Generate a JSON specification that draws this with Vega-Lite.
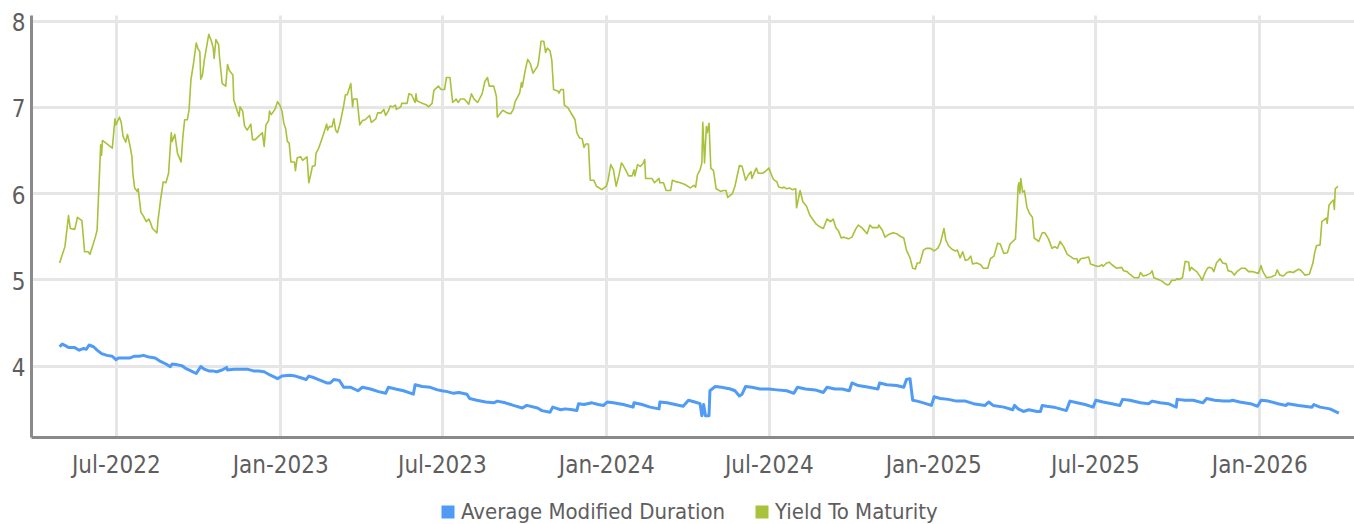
{
"$schema": "https://vega.github.io/schema/vega-lite/v6.json",
"width": 1323,
"height": 422,
"autosize": {"type": "none"},
"padding": {"left": 31, "top": 15, "right": 0, "bottom": 87},
"background": "white",
"config": {"view": {"stroke": null}, "font": "DejaVu Sans Condensed, DejaVu Sans, Roboto"},
"encoding": {
"x": {"field": "d", "type": "temporal",
 "scale": {"type": "utc", "domain": [{"year": 2022, "month": 3, "date": 28, "utc": true}, {"year": 2026, "month": 4, "date": 17, "utc": true}]},
 "axis": {"title": null, "format": "%b-%Y",
  "values": [{"year": 2022, "month": 7, "date": 1, "utc": true}, {"year": 2023, "month": 1, "date": 1, "utc": true}, {"year": 2023, "month": 7, "date": 1, "utc": true}, {"year": 2024, "month": 1, "date": 1, "utc": true}, {"year": 2024, "month": 7, "date": 1, "utc": true}, {"year": 2025, "month": 1, "date": 1, "utc": true}, {"year": 2025, "month": 7, "date": 1, "utc": true}, {"year": 2026, "month": 1, "date": 1, "utc": true}],
  "grid": true, "gridColor": "#e6e6e6", "gridWidth": 3, "domainColor": "#8a8a8a", "domainWidth": 3,
  "ticks": false, "tickSize": 0, "labelFontSize": 24, "labelColor": "#5e5e5e", "labelPadding": 16,
  "labelFlush": false, "labelOverlap": false}},
"y": {"field": "v", "type": "quantitative",
 "scale": {"domain": [3.174, 8.064], "nice": false, "zero": false},
 "axis": {"title": null, "values": [4, 5, 6, 7, 8], "grid": true, "gridColor": "#e6e6e6", "gridWidth": 3,
  "domainColor": "#8a8a8a", "domainWidth": 3, "ticks": false, "tickSize": 0, "labelFontSize": 24,
  "labelColor": "#5e5e5e", "labelPadding": 6, "labelOffset": 3}}
},
"layer": [
{
"data": {"values": [
{"d":"2022-04-29","v":4.22},{"d":"2022-05-02","v":4.25},{"d":"2022-05-06","v":4.23},{"d":"2022-05-09","v":4.21},{"d":"2022-05-16","v":4.21},{"d":"2022-05-21","v":4.18},{"d":"2022-05-26","v":4.20},{"d":"2022-05-29","v":4.19},{"d":"2022-06-01","v":4.24},{"d":"2022-06-06","v":4.22},{"d":"2022-06-10","v":4.18},{"d":"2022-06-15","v":4.14},{"d":"2022-06-21","v":4.12},{"d":"2022-06-27","v":4.11},{"d":"2022-07-01","v":4.07},{"d":"2022-07-04","v":4.09},{"d":"2022-07-10","v":4.09},{"d":"2022-07-17","v":4.09},{"d":"2022-07-22","v":4.11},{"d":"2022-07-27","v":4.11},{"d":"2022-08-01","v":4.12},{"d":"2022-08-07","v":4.10},{"d":"2022-08-14","v":4.09},{"d":"2022-08-20","v":4.05},{"d":"2022-08-26","v":4.02},{"d":"2022-08-31","v":3.99},{"d":"2022-09-02","v":4.02},{"d":"2022-09-08","v":4.01},{"d":"2022-09-13","v":4.00},{"d":"2022-09-17","v":3.97},{"d":"2022-09-23","v":3.94},{"d":"2022-09-29","v":3.91},{"d":"2022-10-04","v":3.99},{"d":"2022-10-08","v":3.96},{"d":"2022-10-13","v":3.94},{"d":"2022-10-17","v":3.94},{"d":"2022-10-22","v":3.93},{"d":"2022-10-28","v":3.95},{"d":"2022-11-02","v":3.98},{"d":"2022-11-03","v":3.95},{"d":"2022-11-10","v":3.96},{"d":"2022-11-18","v":3.96},{"d":"2022-11-25","v":3.96},{"d":"2022-12-02","v":3.94},{"d":"2022-12-08","v":3.94},{"d":"2022-12-14","v":3.93},{"d":"2022-12-21","v":3.89},{"d":"2022-12-29","v":3.85},{"d":"2023-01-03","v":3.88},{"d":"2023-01-12","v":3.89},{"d":"2023-01-18","v":3.88},{"d":"2023-01-24","v":3.86},{"d":"2023-01-30","v":3.84},{"d":"2023-02-02","v":3.88},{"d":"2023-02-08","v":3.86},{"d":"2023-02-15","v":3.83},{"d":"2023-02-22","v":3.80},{"d":"2023-02-26","v":3.80},{"d":"2023-03-02","v":3.84},{"d":"2023-03-08","v":3.83},{"d":"2023-03-10","v":3.80},{"d":"2023-03-13","v":3.75},{"d":"2023-03-21","v":3.75},{"d":"2023-03-29","v":3.71},{"d":"2023-04-03","v":3.75},{"d":"2023-04-12","v":3.73},{"d":"2023-04-21","v":3.70},{"d":"2023-04-29","v":3.68},{"d":"2023-05-02","v":3.75},{"d":"2023-05-10","v":3.73},{"d":"2023-05-19","v":3.71},{"d":"2023-05-30","v":3.67},{"d":"2023-06-01","v":3.78},{"d":"2023-06-09","v":3.76},{"d":"2023-06-18","v":3.75},{"d":"2023-06-26","v":3.72},{"d":"2023-07-01","v":3.71},{"d":"2023-07-07","v":3.70},{"d":"2023-07-14","v":3.68},{"d":"2023-07-20","v":3.69},{"d":"2023-07-29","v":3.67},{"d":"2023-08-01","v":3.62},{"d":"2023-08-09","v":3.60},{"d":"2023-08-19","v":3.58},{"d":"2023-08-28","v":3.57},{"d":"2023-09-01","v":3.59},{"d":"2023-09-10","v":3.57},{"d":"2023-09-19","v":3.54},{"d":"2023-09-29","v":3.51},{"d":"2023-10-04","v":3.54},{"d":"2023-10-16","v":3.51},{"d":"2023-10-21","v":3.48},{"d":"2023-10-30","v":3.46},{"d":"2023-11-02","v":3.52},{"d":"2023-11-11","v":3.49},{"d":"2023-11-16","v":3.50},{"d":"2023-11-24","v":3.49},{"d":"2023-11-29","v":3.48},{"d":"2023-12-01","v":3.56},{"d":"2023-12-07","v":3.55},{"d":"2023-12-16","v":3.57},{"d":"2023-12-23","v":3.55},{"d":"2023-12-29","v":3.54},{"d":"2024-01-02","v":3.58},{"d":"2024-01-09","v":3.57},{"d":"2024-01-20","v":3.55},{"d":"2024-01-31","v":3.52},{"d":"2024-02-01","v":3.57},{"d":"2024-02-10","v":3.55},{"d":"2024-02-19","v":3.52},{"d":"2024-02-29","v":3.50},{"d":"2024-03-01","v":3.58},{"d":"2024-03-09","v":3.57},{"d":"2024-03-18","v":3.55},{"d":"2024-03-27","v":3.53},{"d":"2024-04-02","v":3.60},{"d":"2024-04-09","v":3.58},{"d":"2024-04-15","v":3.56},{"d":"2024-04-17","v":3.42},{"d":"2024-04-19","v":3.55},{"d":"2024-04-21","v":3.42},{"d":"2024-04-25","v":3.42},{"d":"2024-04-26","v":3.71},{"d":"2024-05-02","v":3.76},{"d":"2024-05-09","v":3.75},{"d":"2024-05-19","v":3.73},{"d":"2024-05-24","v":3.71},{"d":"2024-05-29","v":3.65},{"d":"2024-06-01","v":3.67},{"d":"2024-06-05","v":3.76},{"d":"2024-06-12","v":3.75},{"d":"2024-06-21","v":3.73},{"d":"2024-07-01","v":3.73},{"d":"2024-07-10","v":3.72},{"d":"2024-07-21","v":3.71},{"d":"2024-07-29","v":3.68},{"d":"2024-08-02","v":3.75},{"d":"2024-08-11","v":3.73},{"d":"2024-08-22","v":3.72},{"d":"2024-08-31","v":3.69},{"d":"2024-09-04","v":3.75},{"d":"2024-09-13","v":3.73},{"d":"2024-09-21","v":3.73},{"d":"2024-09-29","v":3.71},{"d":"2024-10-02","v":3.80},{"d":"2024-10-09","v":3.77},{"d":"2024-10-21","v":3.75},{"d":"2024-10-31","v":3.73},{"d":"2024-11-02","v":3.80},{"d":"2024-11-10","v":3.78},{"d":"2024-11-21","v":3.77},{"d":"2024-11-29","v":3.75},{"d":"2024-12-02","v":3.84},{"d":"2024-12-06","v":3.85},{"d":"2024-12-09","v":3.60},{"d":"2024-12-14","v":3.59},{"d":"2024-12-21","v":3.57},{"d":"2024-12-30","v":3.54},{"d":"2025-01-02","v":3.64},{"d":"2025-01-09","v":3.62},{"d":"2025-01-18","v":3.61},{"d":"2025-01-27","v":3.59},{"d":"2025-02-06","v":3.59},{"d":"2025-02-15","v":3.56},{"d":"2025-02-28","v":3.54},{"d":"2025-03-04","v":3.58},{"d":"2025-03-09","v":3.54},{"d":"2025-03-21","v":3.52},{"d":"2025-03-31","v":3.49},{"d":"2025-04-02","v":3.54},{"d":"2025-04-06","v":3.50},{"d":"2025-04-12","v":3.47},{"d":"2025-04-18","v":3.49},{"d":"2025-04-27","v":3.47},{"d":"2025-05-01","v":3.47},{"d":"2025-05-03","v":3.54},{"d":"2025-05-08","v":3.53},{"d":"2025-05-16","v":3.52},{"d":"2025-05-23","v":3.50},{"d":"2025-05-30","v":3.48},{"d":"2025-06-03","v":3.59},{"d":"2025-06-11","v":3.57},{"d":"2025-06-20","v":3.55},{"d":"2025-06-29","v":3.52},{"d":"2025-07-02","v":3.60},{"d":"2025-07-10","v":3.58},{"d":"2025-07-20","v":3.56},{"d":"2025-07-29","v":3.54},{"d":"2025-08-01","v":3.61},{"d":"2025-08-09","v":3.60},{"d":"2025-08-21","v":3.57},{"d":"2025-08-30","v":3.56},{"d":"2025-09-03","v":3.59},{"d":"2025-09-12","v":3.57},{"d":"2025-09-21","v":3.56},{"d":"2025-09-30","v":3.52},{"d":"2025-10-01","v":3.61},{"d":"2025-10-10","v":3.60},{"d":"2025-10-19","v":3.60},{"d":"2025-10-30","v":3.57},{"d":"2025-11-03","v":3.62},{"d":"2025-11-12","v":3.60},{"d":"2025-11-22","v":3.59},{"d":"2025-11-29","v":3.59},{"d":"2025-12-02","v":3.60},{"d":"2025-12-10","v":3.58},{"d":"2025-12-22","v":3.56},{"d":"2025-12-30","v":3.53},{"d":"2026-01-03","v":3.60},{"d":"2026-01-11","v":3.59},{"d":"2026-01-22","v":3.56},{"d":"2026-01-31","v":3.54},{"d":"2026-02-02","v":3.56},{"d":"2026-02-14","v":3.54},{"d":"2026-03-01","v":3.52},{"d":"2026-03-03","v":3.55},{"d":"2026-03-10","v":3.52},{"d":"2026-03-21","v":3.50},{"d":"2026-03-31","v":3.45}
]},
"mark": {"type": "line", "strokeWidth": 3, "strokeJoin": "round"},
"encoding": {"color": {"datum": "Average Modified Duration", "type": "nominal",
 "scale": {"domain": ["Average Modified Duration", "Yield To Maturity"], "range": ["#4f9bf5", "#a8c23b"]},
 "legend": {"orient": "none", "legendX": 406, "legendY": 486, "direction": "horizontal", "title": null,
  "symbolType": "square", "symbolSize": 169, "symbolStrokeWidth": 0, "labelFontSize": 22, "labelColor": "#5e5e5e",
  "labelOffset": 2, "labelLimit": 600, "columnPadding": 25, "padding": 0,
  "encode": {"symbols": {"update": {"fill": {"scale": "color", "field": "value"}, "stroke": {"value": "transparent"}}}}}}}
},
{
"data": {"values": [
{"d":"2022-04-29","v":5.19},{"d":"2022-05-05","v":5.38},{"d":"2022-05-09","v":5.74},{"d":"2022-05-11","v":5.59},{"d":"2022-05-16","v":5.58},{"d":"2022-05-19","v":5.72},{"d":"2022-05-24","v":5.68},{"d":"2022-05-27","v":5.32},{"d":"2022-05-31","v":5.32},{"d":"2022-06-02","v":5.29},{"d":"2022-06-08","v":5.49},{"d":"2022-06-10","v":5.57},{"d":"2022-06-14","v":6.56},{"d":"2022-06-15","v":6.44},{"d":"2022-06-16","v":6.61},{"d":"2022-06-21","v":6.57},{"d":"2022-06-27","v":6.52},{"d":"2022-06-30","v":6.86},{"d":"2022-07-01","v":6.79},{"d":"2022-07-05","v":6.88},{"d":"2022-07-07","v":6.82},{"d":"2022-07-09","v":6.66},{"d":"2022-07-12","v":6.59},{"d":"2022-07-14","v":6.68},{"d":"2022-07-17","v":6.54},{"d":"2022-07-19","v":6.42},{"d":"2022-07-20","v":6.23},{"d":"2022-07-22","v":6.06},{"d":"2022-07-25","v":6.02},{"d":"2022-07-26","v":6.05},{"d":"2022-07-29","v":5.78},{"d":"2022-08-01","v":5.73},{"d":"2022-08-04","v":5.67},{"d":"2022-08-07","v":5.70},{"d":"2022-08-09","v":5.65},{"d":"2022-08-11","v":5.59},{"d":"2022-08-16","v":5.54},{"d":"2022-08-17","v":5.67},{"d":"2022-08-20","v":5.92},{"d":"2022-08-23","v":6.13},{"d":"2022-08-26","v":6.12},{"d":"2022-08-29","v":6.23},{"d":"2022-08-30","v":6.39},{"d":"2022-09-01","v":6.70},{"d":"2022-09-02","v":6.60},{"d":"2022-09-05","v":6.68},{"d":"2022-09-08","v":6.46},{"d":"2022-09-12","v":6.36},{"d":"2022-09-14","v":6.65},{"d":"2022-09-16","v":6.85},{"d":"2022-09-19","v":6.85},{"d":"2022-09-21","v":6.97},{"d":"2022-09-23","v":7.31},{"d":"2022-09-26","v":7.51},{"d":"2022-09-29","v":7.74},{"d":"2022-10-01","v":7.67},{"d":"2022-10-03","v":7.64},{"d":"2022-10-04","v":7.32},{"d":"2022-10-06","v":7.37},{"d":"2022-10-08","v":7.54},{"d":"2022-10-13","v":7.84},{"d":"2022-10-16","v":7.76},{"d":"2022-10-18","v":7.68},{"d":"2022-10-19","v":7.56},{"d":"2022-10-21","v":7.78},{"d":"2022-10-24","v":7.72},{"d":"2022-10-25","v":7.58},{"d":"2022-10-28","v":7.27},{"d":"2022-11-01","v":7.24},{"d":"2022-11-03","v":7.49},{"d":"2022-11-05","v":7.42},{"d":"2022-11-09","v":7.37},{"d":"2022-11-10","v":7.08},{"d":"2022-11-14","v":6.95},{"d":"2022-11-16","v":6.89},{"d":"2022-11-17","v":7.00},{"d":"2022-11-20","v":6.95},{"d":"2022-11-22","v":6.78},{"d":"2022-11-25","v":6.73},{"d":"2022-11-29","v":6.80},{"d":"2022-12-01","v":6.62},{"d":"2022-12-04","v":6.62},{"d":"2022-12-08","v":6.66},{"d":"2022-12-12","v":6.70},{"d":"2022-12-14","v":6.54},{"d":"2022-12-16","v":6.79},{"d":"2022-12-19","v":6.84},{"d":"2022-12-20","v":6.95},{"d":"2022-12-22","v":6.91},{"d":"2022-12-26","v":6.97},{"d":"2022-12-29","v":7.06},{"d":"2023-01-01","v":7.01},{"d":"2023-01-03","v":6.95},{"d":"2023-01-05","v":6.81},{"d":"2023-01-07","v":6.75},{"d":"2023-01-09","v":6.60},{"d":"2023-01-11","v":6.58},{"d":"2023-01-13","v":6.36},{"d":"2023-01-17","v":6.36},{"d":"2023-01-18","v":6.26},{"d":"2023-01-20","v":6.41},{"d":"2023-01-24","v":6.42},{"d":"2023-01-26","v":6.38},{"d":"2023-01-31","v":6.42},{"d":"2023-02-02","v":6.12},{"d":"2023-02-04","v":6.21},{"d":"2023-02-06","v":6.31},{"d":"2023-02-09","v":6.32},{"d":"2023-02-10","v":6.46},{"d":"2023-02-13","v":6.52},{"d":"2023-02-17","v":6.64},{"d":"2023-02-22","v":6.80},{"d":"2023-02-23","v":6.73},{"d":"2023-02-25","v":6.77},{"d":"2023-02-28","v":6.77},{"d":"2023-03-02","v":6.86},{"d":"2023-03-04","v":6.73},{"d":"2023-03-06","v":6.70},{"d":"2023-03-09","v":6.81},{"d":"2023-03-13","v":7.01},{"d":"2023-03-15","v":7.14},{"d":"2023-03-17","v":7.14},{"d":"2023-03-21","v":7.27},{"d":"2023-03-23","v":7.00},{"d":"2023-03-24","v":7.09},{"d":"2023-03-28","v":7.09},{"d":"2023-03-31","v":6.79},{"d":"2023-04-03","v":6.84},{"d":"2023-04-06","v":6.85},{"d":"2023-04-11","v":6.90},{"d":"2023-04-13","v":6.82},{"d":"2023-04-18","v":6.86},{"d":"2023-04-20","v":6.93},{"d":"2023-04-24","v":6.93},{"d":"2023-04-27","v":6.97},{"d":"2023-04-29","v":6.90},{"d":"2023-05-02","v":6.95},{"d":"2023-05-04","v":7.01},{"d":"2023-05-07","v":7.00},{"d":"2023-05-10","v":7.02},{"d":"2023-05-11","v":6.97},{"d":"2023-05-16","v":7.00},{"d":"2023-05-17","v":7.04},{"d":"2023-05-23","v":7.04},{"d":"2023-05-25","v":7.15},{"d":"2023-05-28","v":7.14},{"d":"2023-06-01","v":7.05},{"d":"2023-06-02","v":7.15},{"d":"2023-06-03","v":7.07},{"d":"2023-06-09","v":7.04},{"d":"2023-06-14","v":7.02},{"d":"2023-06-16","v":7.00},{"d":"2023-06-20","v":7.04},{"d":"2023-06-22","v":7.19},{"d":"2023-06-27","v":7.24},{"d":"2023-06-30","v":7.20},{"d":"2023-07-04","v":7.20},{"d":"2023-07-06","v":7.34},{"d":"2023-07-10","v":7.34},{"d":"2023-07-13","v":7.05},{"d":"2023-07-17","v":7.09},{"d":"2023-07-19","v":7.05},{"d":"2023-07-22","v":7.09},{"d":"2023-07-26","v":7.09},{"d":"2023-07-31","v":7.03},{"d":"2023-08-03","v":7.15},{"d":"2023-08-06","v":7.09},{"d":"2023-08-10","v":7.05},{"d":"2023-08-15","v":7.15},{"d":"2023-08-18","v":7.29},{"d":"2023-08-21","v":7.34},{"d":"2023-08-23","v":7.24},{"d":"2023-08-28","v":7.24},{"d":"2023-08-31","v":7.12},{"d":"2023-09-01","v":6.88},{"d":"2023-09-07","v":6.96},{"d":"2023-09-12","v":6.93},{"d":"2023-09-16","v":6.92},{"d":"2023-09-19","v":6.97},{"d":"2023-09-21","v":7.06},{"d":"2023-09-26","v":7.16},{"d":"2023-09-28","v":7.28},{"d":"2023-09-29","v":7.23},{"d":"2023-10-02","v":7.41},{"d":"2023-10-05","v":7.55},{"d":"2023-10-08","v":7.50},{"d":"2023-10-11","v":7.39},{"d":"2023-10-16","v":7.47},{"d":"2023-10-17","v":7.51},{"d":"2023-10-20","v":7.76},{"d":"2023-10-23","v":7.76},{"d":"2023-10-25","v":7.63},{"d":"2023-10-27","v":7.68},{"d":"2023-10-30","v":7.65},{"d":"2023-11-01","v":7.54},{"d":"2023-11-03","v":7.20},{"d":"2023-11-08","v":7.18},{"d":"2023-11-09","v":7.16},{"d":"2023-11-11","v":7.20},{"d":"2023-11-14","v":7.20},{"d":"2023-11-15","v":7.02},{"d":"2023-11-19","v":6.99},{"d":"2023-11-23","v":6.92},{"d":"2023-11-27","v":6.85},{"d":"2023-11-29","v":6.70},{"d":"2023-12-02","v":6.64},{"d":"2023-12-05","v":6.63},{"d":"2023-12-07","v":6.53},{"d":"2023-12-09","v":6.57},{"d":"2023-12-12","v":6.57},{"d":"2023-12-14","v":6.15},{"d":"2023-12-18","v":6.15},{"d":"2023-12-21","v":6.08},{"d":"2023-12-27","v":6.04},{"d":"2024-01-01","v":6.08},{"d":"2024-01-03","v":6.15},{"d":"2024-01-06","v":6.33},{"d":"2024-01-09","v":6.27},{"d":"2024-01-12","v":6.08},{"d":"2024-01-15","v":6.20},{"d":"2024-01-18","v":6.35},{"d":"2024-01-20","v":6.32},{"d":"2024-01-23","v":6.26},{"d":"2024-01-26","v":6.20},{"d":"2024-01-30","v":6.20},{"d":"2024-02-01","v":6.27},{"d":"2024-02-02","v":6.20},{"d":"2024-02-05","v":6.33},{"d":"2024-02-08","v":6.31},{"d":"2024-02-11","v":6.34},{"d":"2024-02-13","v":6.39},{"d":"2024-02-14","v":6.17},{"d":"2024-02-17","v":6.17},{"d":"2024-02-21","v":6.17},{"d":"2024-02-24","v":6.12},{"d":"2024-02-29","v":6.17},{"d":"2024-03-01","v":6.12},{"d":"2024-03-05","v":6.12},{"d":"2024-03-08","v":6.03},{"d":"2024-03-13","v":6.03},{"d":"2024-03-15","v":6.15},{"d":"2024-03-20","v":6.13},{"d":"2024-03-24","v":6.12},{"d":"2024-03-29","v":6.10},{"d":"2024-04-04","v":6.06},{"d":"2024-04-08","v":6.09},{"d":"2024-04-10","v":6.07},{"d":"2024-04-12","v":6.21},{"d":"2024-04-15","v":6.27},{"d":"2024-04-17","v":6.35},{"d":"2024-04-18","v":6.82},{"d":"2024-04-20","v":6.35},{"d":"2024-04-22","v":6.77},{"d":"2024-04-23","v":6.70},{"d":"2024-04-25","v":6.81},{"d":"2024-04-27","v":6.29},{"d":"2024-04-30","v":6.26},{"d":"2024-05-03","v":6.05},{"d":"2024-05-08","v":6.02},{"d":"2024-05-11","v":6.03},{"d":"2024-05-14","v":6.03},{"d":"2024-05-16","v":5.95},{"d":"2024-05-21","v":5.99},{"d":"2024-05-24","v":6.08},{"d":"2024-05-29","v":6.32},{"d":"2024-06-01","v":6.31},{"d":"2024-06-05","v":6.15},{"d":"2024-06-08","v":6.21},{"d":"2024-06-11","v":6.25},{"d":"2024-06-12","v":6.17},{"d":"2024-06-16","v":6.27},{"d":"2024-06-17","v":6.29},{"d":"2024-06-19","v":6.23},{"d":"2024-06-24","v":6.23},{"d":"2024-06-27","v":6.25},{"d":"2024-07-01","v":6.29},{"d":"2024-07-04","v":6.21},{"d":"2024-07-06","v":6.16},{"d":"2024-07-10","v":6.13},{"d":"2024-07-12","v":6.07},{"d":"2024-07-16","v":6.06},{"d":"2024-07-18","v":6.07},{"d":"2024-07-21","v":6.05},{"d":"2024-07-24","v":6.06},{"d":"2024-07-27","v":6.04},{"d":"2024-07-31","v":6.05},{"d":"2024-08-01","v":5.83},{"d":"2024-08-05","v":6.03},{"d":"2024-08-08","v":5.90},{"d":"2024-08-12","v":5.85},{"d":"2024-08-16","v":5.74},{"d":"2024-08-23","v":5.64},{"d":"2024-08-27","v":5.61},{"d":"2024-08-31","v":5.59},{"d":"2024-09-04","v":5.70},{"d":"2024-09-08","v":5.67},{"d":"2024-09-11","v":5.70},{"d":"2024-09-14","v":5.60},{"d":"2024-09-17","v":5.56},{"d":"2024-09-20","v":5.48},{"d":"2024-09-23","v":5.49},{"d":"2024-09-28","v":5.47},{"d":"2024-10-02","v":5.49},{"d":"2024-10-06","v":5.58},{"d":"2024-10-09","v":5.63},{"d":"2024-10-13","v":5.60},{"d":"2024-10-19","v":5.53},{"d":"2024-10-22","v":5.63},{"d":"2024-10-25","v":5.60},{"d":"2024-10-31","v":5.60},{"d":"2024-11-01","v":5.63},{"d":"2024-11-05","v":5.57},{"d":"2024-11-08","v":5.49},{"d":"2024-11-12","v":5.52},{"d":"2024-11-17","v":5.54},{"d":"2024-11-21","v":5.53},{"d":"2024-11-25","v":5.50},{"d":"2024-11-29","v":5.48},{"d":"2024-12-02","v":5.34},{"d":"2024-12-06","v":5.25},{"d":"2024-12-09","v":5.13},{"d":"2024-12-12","v":5.12},{"d":"2024-12-14","v":5.19},{"d":"2024-12-17","v":5.19},{"d":"2024-12-21","v":5.34},{"d":"2024-12-24","v":5.36},{"d":"2024-12-29","v":5.36},{"d":"2025-01-02","v":5.33},{"d":"2025-01-06","v":5.36},{"d":"2025-01-09","v":5.42},{"d":"2025-01-13","v":5.59},{"d":"2025-01-15","v":5.46},{"d":"2025-01-18","v":5.39},{"d":"2025-01-22","v":5.35},{"d":"2025-01-26","v":5.33},{"d":"2025-01-28","v":5.34},{"d":"2025-01-31","v":5.25},{"d":"2025-02-03","v":5.32},{"d":"2025-02-06","v":5.22},{"d":"2025-02-09","v":5.23},{"d":"2025-02-12","v":5.27},{"d":"2025-02-14","v":5.18},{"d":"2025-02-19","v":5.19},{"d":"2025-02-23","v":5.17},{"d":"2025-02-26","v":5.13},{"d":"2025-03-03","v":5.13},{"d":"2025-03-06","v":5.24},{"d":"2025-03-10","v":5.27},{"d":"2025-03-14","v":5.42},{"d":"2025-03-17","v":5.41},{"d":"2025-03-21","v":5.30},{"d":"2025-03-25","v":5.31},{"d":"2025-03-28","v":5.41},{"d":"2025-04-03","v":5.47},{"d":"2025-04-05","v":5.84},{"d":"2025-04-06","v":6.08},{"d":"2025-04-07","v":6.12},{"d":"2025-04-08","v":6.00},{"d":"2025-04-09","v":6.17},{"d":"2025-04-11","v":6.01},{"d":"2025-04-13","v":6.03},{"d":"2025-04-16","v":5.83},{"d":"2025-04-19","v":5.76},{"d":"2025-04-22","v":5.72},{"d":"2025-04-24","v":5.48},{"d":"2025-04-29","v":5.44},{"d":"2025-05-03","v":5.54},{"d":"2025-05-06","v":5.54},{"d":"2025-05-10","v":5.47},{"d":"2025-05-14","v":5.36},{"d":"2025-05-17","v":5.38},{"d":"2025-05-20","v":5.36},{"d":"2025-05-23","v":5.44},{"d":"2025-05-27","v":5.38},{"d":"2025-05-31","v":5.29},{"d":"2025-06-03","v":5.27},{"d":"2025-06-07","v":5.24},{"d":"2025-06-11","v":5.24},{"d":"2025-06-12","v":5.19},{"d":"2025-06-15","v":5.24},{"d":"2025-06-20","v":5.25},{"d":"2025-06-24","v":5.26},{"d":"2025-06-26","v":5.18},{"d":"2025-07-01","v":5.16},{"d":"2025-07-05","v":5.15},{"d":"2025-07-09","v":5.17},{"d":"2025-07-10","v":5.15},{"d":"2025-07-14","v":5.19},{"d":"2025-07-17","v":5.20},{"d":"2025-07-20","v":5.17},{"d":"2025-07-25","v":5.13},{"d":"2025-07-31","v":5.14},{"d":"2025-08-02","v":5.10},{"d":"2025-08-06","v":5.09},{"d":"2025-08-09","v":5.06},{"d":"2025-08-14","v":5.02},{"d":"2025-08-19","v":5.02},{"d":"2025-08-21","v":5.08},{"d":"2025-08-24","v":5.04},{"d":"2025-08-28","v":5.05},{"d":"2025-09-01","v":5.07},{"d":"2025-09-03","v":5.10},{"d":"2025-09-05","v":5.02},{"d":"2025-09-10","v":5.00},{"d":"2025-09-14","v":4.98},{"d":"2025-09-19","v":4.94},{"d":"2025-09-22","v":4.94},{"d":"2025-09-25","v":4.99},{"d":"2025-09-29","v":4.99},{"d":"2025-10-01","v":5.01},{"d":"2025-10-03","v":5.00},{"d":"2025-10-07","v":5.02},{"d":"2025-10-10","v":5.21},{"d":"2025-10-14","v":5.20},{"d":"2025-10-15","v":5.10},{"d":"2025-10-17","v":5.14},{"d":"2025-10-20","v":5.11},{"d":"2025-10-23","v":5.09},{"d":"2025-10-27","v":5.03},{"d":"2025-10-29","v":4.99},{"d":"2025-11-01","v":5.07},{"d":"2025-11-04","v":5.13},{"d":"2025-11-06","v":5.14},{"d":"2025-11-09","v":5.13},{"d":"2025-11-11","v":5.09},{"d":"2025-11-14","v":5.19},{"d":"2025-11-18","v":5.24},{"d":"2025-11-21","v":5.19},{"d":"2025-11-25","v":5.18},{"d":"2025-11-27","v":5.10},{"d":"2025-12-01","v":5.09},{"d":"2025-12-04","v":5.05},{"d":"2025-12-07","v":5.09},{"d":"2025-12-12","v":5.13},{"d":"2025-12-16","v":5.13},{"d":"2025-12-20","v":5.09},{"d":"2025-12-25","v":5.09},{"d":"2025-12-31","v":5.07},{"d":"2026-01-03","v":5.16},{"d":"2026-01-05","v":5.09},{"d":"2026-01-09","v":5.02},{"d":"2026-01-15","v":5.03},{"d":"2026-01-19","v":5.05},{"d":"2026-01-21","v":5.11},{"d":"2026-01-24","v":5.05},{"d":"2026-01-28","v":5.04},{"d":"2026-02-01","v":5.08},{"d":"2026-02-04","v":5.09},{"d":"2026-02-08","v":5.08},{"d":"2026-02-11","v":5.10},{"d":"2026-02-14","v":5.12},{"d":"2026-02-17","v":5.10},{"d":"2026-02-21","v":5.05},{"d":"2026-02-26","v":5.06},{"d":"2026-03-02","v":5.19},{"d":"2026-03-04","v":5.31},{"d":"2026-03-06","v":5.39},{"d":"2026-03-10","v":5.40},{"d":"2026-03-12","v":5.67},{"d":"2026-03-17","v":5.71},{"d":"2026-03-18","v":5.65},{"d":"2026-03-20","v":5.86},{"d":"2026-03-23","v":5.90},{"d":"2026-03-25","v":5.92},{"d":"2026-03-26","v":5.81},{"d":"2026-03-27","v":6.05},{"d":"2026-03-30","v":6.08}
]},
"mark": {"type": "line", "strokeWidth": 1.6, "strokeJoin": "round"},
"encoding": {"color": {"datum": "Yield To Maturity", "type": "nominal"}}
}
]
}
